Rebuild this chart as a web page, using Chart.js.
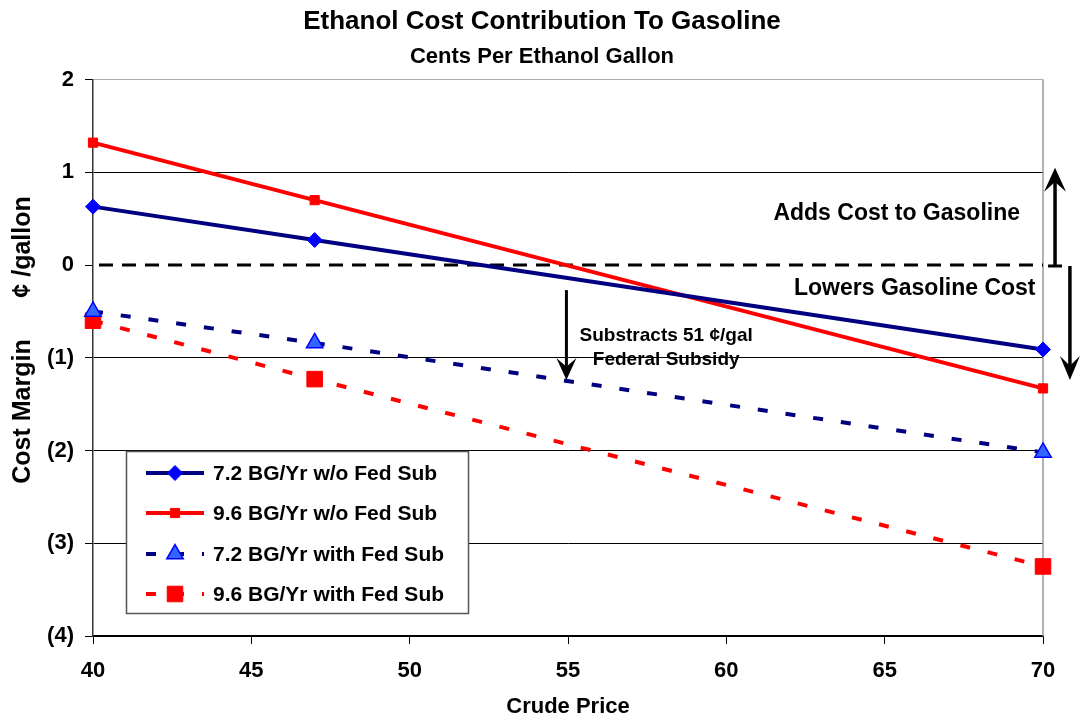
<!DOCTYPE html>
<html>
<head>
<meta charset="utf-8">
<script src="https://cdn.jsdelivr.net/npm/chart.js@4/dist/chart.umd.min.js"></script>
<style>
html,body{margin:0;padding:0;background:#fff;}
#wrap{width:1080px;height:719px;}
</style>
</head>
<body>
<div id="wrap"><canvas id="c" width="1080" height="719"></canvas></div>
<script>
// ---- data ----
const crudePrice = [40, 47, 70];
const bg72NoSub = [0.63, 0.27, -0.91];
const bg96NoSub = [1.32, 0.70, -1.33];
const bg72WithSub = [-0.50, -0.84, -2.02];
const bg96WithSub = [-0.60, -1.23, -3.25];
const seriesLabels = ['7.2 BG/Yr w/o Fed Sub', '9.6 BG/Yr w/o Fed Sub', '7.2 BG/Yr with Fed Sub', '9.6 BG/Yr with Fed Sub'];
const xTicks = [40, 45, 50, 55, 60, 65, 70];
const yTicks = [2, 1, 0, -1, -2, -3, -4];

const FONT = '"Liberation Sans", Arial, Helvetica, sans-serif';
const pts = vals => crudePrice.map((x, i) => ({x: x, y: vals[i]}));
const fmtY = v => v < 0 ? '(' + (-v) + ')' : String(v);

const datasets = [
  {label: seriesLabels[0], data: pts(bg72NoSub), borderColor: '#000080', borderWidth: 4,
   pointStyle: 'rectRot', pointRadius: 7.5, pointBackgroundColor: '#0000FF', pointBorderColor: '#0000FF', pointBorderWidth: 1},
  {label: seriesLabels[1], data: pts(bg96NoSub), borderColor: '#FF0000', borderWidth: 4,
   pointStyle: 'rect', pointRadius: 6.5, pointBackgroundColor: '#FF0000', pointBorderColor: '#FF0000', pointBorderWidth: 1},
  {label: seriesLabels[2], data: pts(bg72WithSub), borderColor: '#000080', borderWidth: 4, borderDash: [10, 18],
   pointStyle: 'triangle', pointRadius: 9.5, pointBackgroundColor: '#3366FF', pointBorderColor: '#0000FF', pointBorderWidth: 1.5},
  {label: seriesLabels[3], data: pts(bg96WithSub), borderColor: '#FF0000', borderWidth: 4, borderDash: [10, 18],
   pointStyle: 'rect', pointRadius: 11, pointBackgroundColor: '#FF0000', pointBorderColor: '#FF0000', pointBorderWidth: 1}
];
datasets.forEach(d => { d.tension = 0; d.fill = false; d.clip = false; d.borderCapStyle = 'butt'; });

function arrow(ctx, x, yFrom, yTo, lw, hw, hl) {
  const dir = yTo > yFrom ? 1 : -1;
  ctx.lineWidth = lw;
  ctx.beginPath();
  ctx.moveTo(x, yFrom);
  ctx.lineTo(x, yTo - dir * (hl * 0.6));
  ctx.stroke();
  ctx.beginPath();
  ctx.moveTo(x, yTo);
  ctx.lineTo(x - hw / 2, yTo - dir * hl);
  ctx.lineTo(x, yTo - dir * hl * 0.6);
  ctx.lineTo(x + hw / 2, yTo - dir * hl);
  ctx.closePath();
  ctx.fill();
}

const overlay = {
  id: 'overlay',
  beforeDatasetsDraw(chart) {
    const {ctx, chartArea: a, scales: {x, y}} = chart;
    ctx.save();
    ctx.strokeStyle = '#9a9a9a';
    ctx.lineWidth = 1.5;
    ctx.beginPath();
    ctx.moveTo(a.right, a.top);
    ctx.lineTo(a.right, a.bottom);
    ctx.stroke();
    const y0 = y.getPixelForValue(0);
    ctx.strokeStyle = '#000';
    ctx.lineWidth = 3;
    ctx.setLineDash([14, 9]);
    ctx.beginPath();
    ctx.moveTo(a.left + 6, y0);
    ctx.lineTo(a.right, y0);
    ctx.stroke();
    ctx.restore();
  },
  afterDatasetsDraw(chart) {
    const {ctx, chartArea: a, scales: {x, y}} = chart;
    const H = Chart.helpers;
    ctx.save();
    ctx.fillStyle = '#000';
    ctx.strokeStyle = '#000';
    ctx.textBaseline = 'middle';
    ctx.textAlign = 'center';
    ctx.font = 'bold 23px ' + FONT;
    ctx.fillText('Adds Cost to Gasoline', x.getPixelForValue(65.38), y.getPixelForValue(0.55));
    ctx.fillText('Lowers Gasoline Cost', x.getPixelForValue(65.95), y.getPixelForValue(-0.25));
    ctx.font = 'bold 19px ' + FONT;
    ctx.fillText('Substracts 51 \u00A2/gal', x.getPixelForValue(58.1), y.getPixelForValue(-0.76));
    ctx.fillText('Federal Subsidy', x.getPixelForValue(58.1), y.getPixelForValue(-1.02));
    arrow(ctx, x.getPixelForValue(54.95), y.getPixelForValue(-0.27), y.getPixelForValue(-1.24), 3, 20, 22);
    const xu = x.getPixelForValue(70.38), xd = x.getPixelForValue(70.85);
    const yb = y.getPixelForValue(-0.01);
    arrow(ctx, xu, yb, y.getPixelForValue(1.05), 3.5, 22, 24);
    ctx.lineWidth = 3;
    ctx.beginPath(); ctx.moveTo(xu - 7, yb); ctx.lineTo(xu + 7, yb); ctx.stroke();
    arrow(ctx, xd, yb, y.getPixelForValue(-1.24), 3.5, 20, 24);

    // y-axis title
    ctx.save();
    ctx.translate(23, 340);
    ctx.rotate(-Math.PI / 2);
    ctx.font = 'bold 25px ' + FONT;
    ctx.textAlign = 'center';
    ctx.textBaseline = 'middle';
    ctx.fillText('Cost Margin      \u00A2 /gallon', 0, 0);
    ctx.restore();

    // legend box
    const bx = 126.5, by = 451.5, bw = 342, bh = 162;
    ctx.fillStyle = '#fff';
    ctx.fillRect(bx, by, bw, bh);
    ctx.strokeStyle = '#555';
    ctx.lineWidth = 1.5;
    ctx.strokeRect(bx, by, bw, bh);
    const rows = [473, 513, 554, 594];
    chart.data.datasets.forEach((d, i) => {
      const ry = rows[i];
      ctx.save();
      ctx.strokeStyle = d.borderColor;
      ctx.lineWidth = d.borderWidth;
      ctx.lineCap = 'butt';
      ctx.setLineDash(d.borderDash || []);
      ctx.beginPath();
      ctx.moveTo(146, ry);
      ctx.lineTo(204, ry);
      ctx.stroke();
      ctx.setLineDash([]);
      ctx.fillStyle = d.pointBackgroundColor;
      ctx.strokeStyle = d.pointBorderColor;
      ctx.lineWidth = d.pointBorderWidth;
      H.drawPoint(ctx, {pointStyle: d.pointStyle, radius: d.pointRadius, rotation: 0, borderWidth: d.pointBorderWidth}, 175, ry);
      ctx.restore();
      ctx.fillStyle = '#000';
      ctx.font = 'bold 21px ' + FONT;
      ctx.textAlign = 'left';
      ctx.textBaseline = 'middle';
      ctx.fillText(d.label, 213, ry + 1);
    });
    ctx.restore();
  }
};

new Chart(document.getElementById('c'), {
  type: 'line',
  data: {datasets: datasets},
  options: {
    responsive: false,
    animation: false,
    devicePixelRatio: 1,
    layout: {padding: {left: 41, right: 37, top: 0, bottom: 0}},
    plugins: {
      legend: {display: false},
      tooltip: {enabled: false},
      title: {display: true, text: 'Ethanol Cost Contribution To Gasoline', color: '#000',
              font: {family: FONT, size: 26, weight: 'bold'}, padding: {top: 6, bottom: 6}},
      subtitle: {display: true, text: 'Cents Per Ethanol Gallon', color: '#000',
              font: {family: FONT, size: 22, weight: 'bold'}, padding: {top: 1, bottom: 9}}
    },
    scales: {
      x: {
        type: 'linear', min: 40, max: 70,
        afterBuildTicks: s => { s.ticks = xTicks.map(v => ({value: v})); },
        afterFit: s => { s.height = 83; },
        grid: {drawOnChartArea: false, drawTicks: true, tickLength: 8, tickColor: '#000', tickWidth: 1},
        border: {display: true, color: '#000', width: 1.5},
        ticks: {color: '#000', padding: 14, maxRotation: 0, font: {family: FONT, size: 22, weight: 'bold'}},
        title: {display: true, text: 'Crude Price', color: '#000', padding: {top: 0, bottom: 1},
                font: {family: FONT, size: 22, weight: 'bold', lineHeight: 1.0}}
      },
      y: {
        type: 'linear', min: -4, max: 2,
        afterBuildTicks: s => { s.ticks = yTicks.map(v => ({value: v})); },
        afterFit: s => { s.width = 52; },
        grid: {
          drawOnChartArea: true, drawTicks: true, tickLength: 8, tickColor: '#000',
          color: c => c.tick.value === 0 ? 'rgba(0,0,0,0)' : (c.tick.value === 2 ? '#aaaaaa' : '#000'),
          lineWidth: 1
        },
        border: {display: true, color: '#333', width: 1.5},
        ticks: {color: '#000', padding: 11, callback: v => fmtY(v), font: {family: FONT, size: 22, weight: 'bold'}}
      }
    }
  },
  plugins: [overlay]
});
</script>
</body>
</html>
